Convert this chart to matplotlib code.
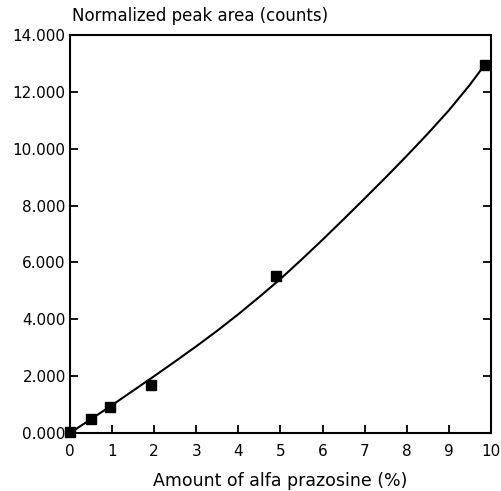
import numpy as np
import matplotlib
matplotlib.use('Agg')
import matplotlib.pyplot as plt
from matplotlib.ticker import FuncFormatter

# measured points
amount = [0.0, 0.5, 0.95, 1.92, 4.9, 9.85]
area = [40, 510, 900, 1700, 5510, 12960]

# fitted curve
curve_x = [0, 0.5, 1, 1.5, 2, 2.5, 3, 3.5, 4, 4.5, 5, 5.5, 6, 6.5, 7, 7.5, 8, 8.5, 9, 9.5, 9.85]
curve_y = [0, 490, 980, 1490, 2000, 2520, 3050, 3600, 4180, 4790, 5420, 6100, 6800,
           7520, 8250, 8990, 9750, 10530, 11350, 12250, 12950]

x_ticks = list(range(0, 11))
y_ticks = list(range(0, 14001, 2000))


def thousands(v, pos):
    return f'{int(v) // 1000}.{int(v) % 1000:03d}'


def main():
    fig = plt.figure(figsize=(5.02, 4.91), dpi=100)
    ax = fig.add_axes([0.1394, 0.1181, 0.8386, 0.8106])

    ax.plot(curve_x, curve_y, color='black', lw=1.5, zorder=2)
    ax.plot(amount, area, 's', color='black', ms=7, zorder=3, clip_on=False)

    ax.set_xlim(0, 10)
    ax.set_ylim(0, 14000)
    ax.set_xticks(x_ticks)
    ax.set_yticks(y_ticks)
    ax.yaxis.set_major_formatter(FuncFormatter(thousands))
    ax.tick_params(direction='in', length=6, width=1.3, labelsize=11,
                   right=True, top=False)
    ax.tick_params(axis='x', pad=8)
    ax.tick_params(axis='y', pad=3)
    for s in ax.spines.values():
        s.set_linewidth(1.5)

    fig.text(0.143, 0.967, 'Normalized peak area (counts)', fontsize=12,
             ha='left', va='center')
    ax.set_xlabel('Amount of alfa prazosine (%)', fontsize=12.5, labelpad=9)

    fig.savefig('out.png', dpi=100)


main()
